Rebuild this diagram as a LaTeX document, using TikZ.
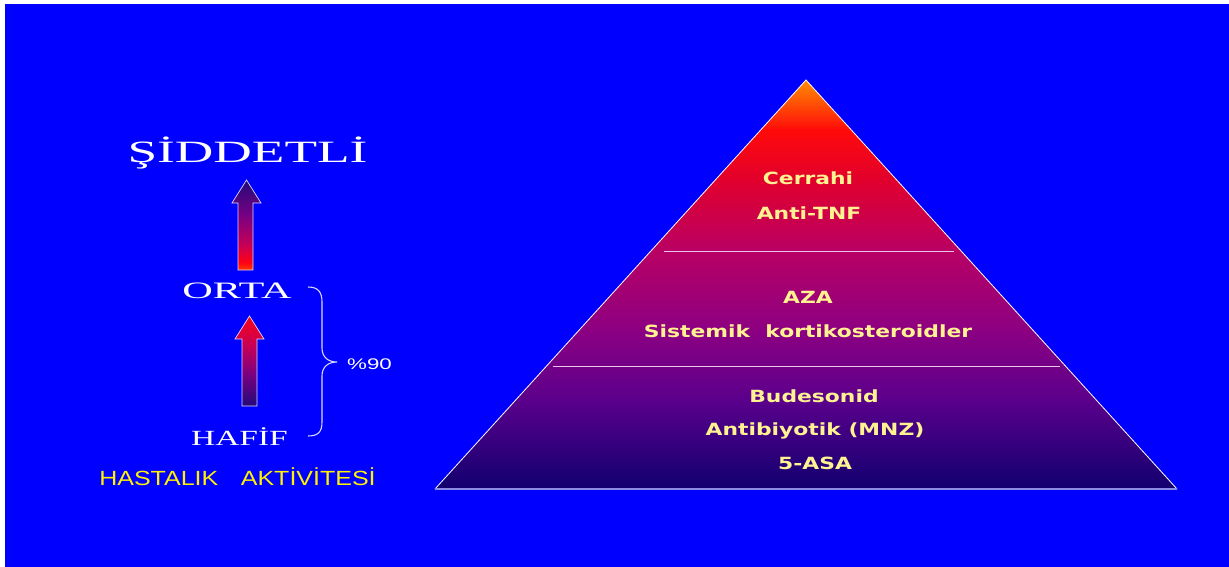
\documentclass[tikz,border=0pt]{standalone}
\usepackage{fontspec}
\usepackage{graphicx}
\setmainfont{Liberation Serif}
\newfontfamily\pyrfont{DejaVu Sans}
\newfontfamily\labfont{Liberation Sans}
\newcommand\sx[2]{\scalebox{#1}[1]{#2}}
\definecolor{bgblue}{RGB}{0,0,255}
\definecolor{pyrtext}{RGB}{255,242,145}
\definecolor{basecol}{RGB}{140,140,230}
\definecolor{divcol}{RGB}{235,200,235}
\definecolor{pA}{RGB}{255,145,0}
\definecolor{pB}{RGB}{255,10,10}
\definecolor{pC}{RGB}{225,0,45}
\definecolor{pD}{RGB}{185,0,100}
\definecolor{pE}{RGB}{140,0,130}
\definecolor{pF}{RGB}{90,0,140}
\definecolor{pG}{RGB}{15,0,110}
\definecolor{aNavy}{RGB}{30,10,120}
\definecolor{aPurp}{RGB}{120,0,130}
\definecolor{aMag}{RGB}{200,0,85}
\definecolor{aRed}{RGB}{255,0,20}
\definecolor{aOr}{RGB}{255,70,0}
\tikzset{
  serif/.style={text=white, inner sep=0pt, anchor=base},
  pyrtxt/.style={text=pyrtext, inner sep=0pt, anchor=base, font=\pyrfont\bfseries\fontsize{16.8}{18}\selectfont},
  outl/.style={draw=white!85!blue, line width=0.7pt}
}
\begin{document}
\begin{tikzpicture}[x=1pt,y=-1pt]
\useasboundingbox (0,0) rectangle (1229,567);
\fill[white] (0,0) rectangle (1229,567);
\fill[bgblue] (5,4) rectangle (1229,567);

% ---------- pyramid ----------
\coordinate (apex) at (806,80);
\coordinate (bl) at (435,489);
\coordinate (br) at (1177,489);
\begin{scope}
  \clip (bl) -- (apex) -- (br) -- cycle;
  \shade[top color=pA, bottom color=pB] (430,78) rectangle (1180,130.5);
  \shade[top color=pB, bottom color=pC] (430,130) rectangle (1180,180.5);
  \shade[top color=pC, bottom color=pD] (430,180) rectangle (1180,250.5);
  \shade[top color=pD, bottom color=pE] (430,250) rectangle (1180,330.5);
  \shade[top color=pE, bottom color=pF] (430,330) rectangle (1180,400.5);
  \shade[top color=pF, bottom color=pG] (430,400) rectangle (1180,491);
\end{scope}
\draw[white, line width=0.8pt, line join=miter] (bl) -- (apex) -- (br);
\draw[basecol, line width=1.6pt] (bl) -- (br);
\coordinate (d1l) at (664,251);
\coordinate (d1r) at (954,251);
\coordinate (d2l) at (553,366);
\coordinate (d2r) at (1060,366);
\draw[divcol, line width=0.7pt] (d1l) -- (d1r);
\draw[divcol, line width=0.7pt] (d2l) -- (d2r);

\node[pyrtxt] (t1) at (808,185) {\sx{1.3}{Cerrahi}};
\node[pyrtxt] (t2) at (809,219) {\sx{1.3}{Anti-TNF}};
\node[pyrtxt] (t3) at (808,303) {\sx{1.3}{AZA}};
\node[pyrtxt] (t4) at (808,337) {\sx{1.3}{Sistemik\ \ kortikosteroidler}};
\node[pyrtxt] (t5) at (814,402) {\sx{1.3}{Budesonid}};
\node[pyrtxt] (t6) at (815,435.5) {\sx{1.3}{Antibiyotik (MNZ)}};
\node[pyrtxt] (t7) at (815,469) {\sx{1.3}{5-ASA}};

% ---------- left labels ----------
\node[serif, font=\fontsize{31}{34}\selectfont] (sid) at (247.5,163) {\sx{1.72}{ŞİDDETLİ}};
\node[serif, font=\fontsize{23.5}{26}\selectfont] (orta) at (237,298) {\sx{1.8}{ORTA}};
\node[serif, font=\fontsize{21.6}{24}\selectfont] (hafif) at (239.5,445) {\sx{1.55}{HAFİF}};
\node[inner sep=0pt, anchor=base, text=yellow, font=\labfont\fontsize{20.5}{22}\selectfont] (hast) at (237.5,485) {\sx{1.22}{HASTALIK\hspace{0.9em}AKTİVİTESİ}};
\node[inner sep=0pt, anchor=base, text=white, font=\labfont\fontsize{15.4}{17}\selectfont] (p90) at (369.5,369) {\sx{1.45}{\%90}};

% ---------- arrows ----------
\begin{scope}
  \clip (238,270) -- (238,203) -- (232,203) -- (246.5,180) -- (261,203) -- (253,203) -- (253,270) -- cycle;
  \shade[top color=aNavy, bottom color=aPurp] (228,178) rectangle (265,215.5);
  \shade[top color=aPurp, bottom color=aMag] (228,215) rectangle (265,245.5);
  \shade[top color=aMag, bottom color=aRed] (228,245) rectangle (265,262.5);
  \shade[top color=aRed, bottom color=aOr] (228,262) rectangle (265,272);
\end{scope}
\draw[outl] (238,270) -- (238,203) -- (232,203) -- (246.5,180) -- (261,203) -- (253,203) -- (253,270) -- cycle;

\begin{scope}
  \clip (242,406) -- (242,339) -- (235,339) -- (249.5,316) -- (264,339) -- (257,339) -- (257,406) -- cycle;
  \shade[top color=aRed, bottom color=aMag] (230,314) rectangle (268,345.5);
  \shade[top color=aMag, bottom color=aPurp] (230,345) rectangle (268,375.5);
  \shade[top color=aPurp, bottom color=aNavy] (230,375) rectangle (268,408);
\end{scope}
\draw[outl] (242,406) -- (242,339) -- (235,339) -- (249.5,316) -- (264,339) -- (257,339) -- (257,406) -- cycle;

% ---------- brace ----------
\coordinate (bt) at (308,287);
\coordinate (bm) at (337,362);
\coordinate (bb) at (308,436);
\draw[white!85!blue, line width=1.1pt]
  (bt) .. controls (318,287) and (322,292) .. (322,302)
  -- (322,348) .. controls (322,357) and (328,362) .. (bm)
  .. controls (328,362) and (322,367) .. (322,376)
  -- (322,422) .. controls (322,432) and (318,436) .. (bb);
\end{tikzpicture}
\end{document}
